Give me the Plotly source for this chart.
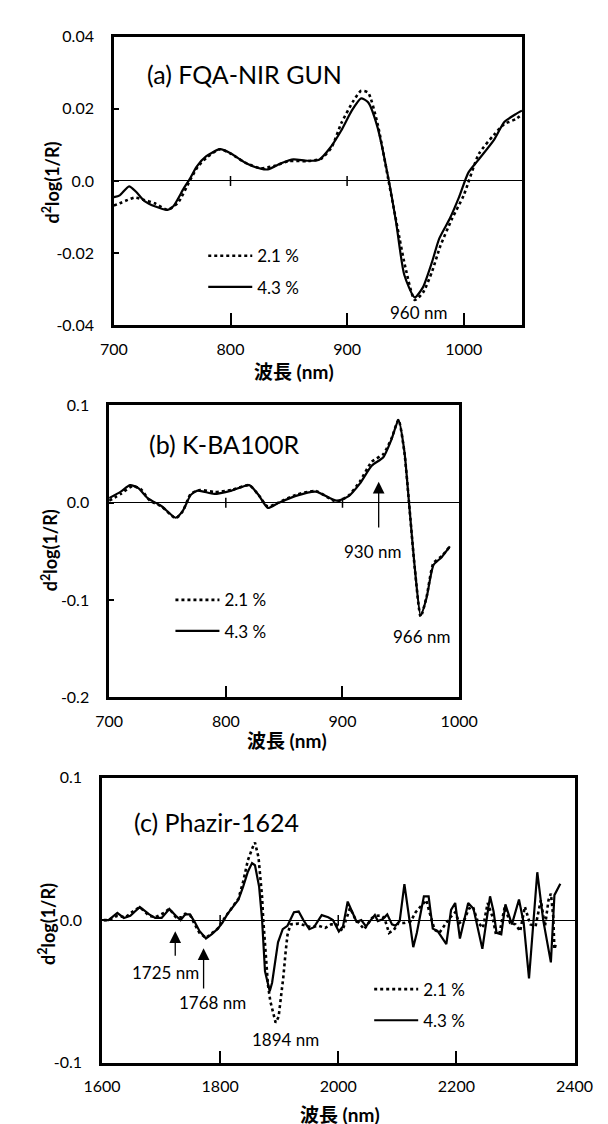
import plotly.graph_objects as go

FONT = "Lato, 'Noto Sans CJK JP', sans-serif"
W, H = 608, 1124

# ---------------- data: panel (a) FQA-NIR GUN ----------------
a_wl_21 = [700, 705, 710, 718, 725, 735, 746, 755, 765, 772, 780, 791, 800, 813, 826, 838, 850,
           866, 878, 887, 895, 905, 912, 918, 926, 935, 945, 950, 958, 965, 973, 980, 990, 1000,
           1013, 1026, 1035, 1045, 1050]
a_21 = [-0.0068, -0.0062, -0.0055, -0.0046, -0.0052, -0.0062, -0.0080, -0.0060, 0.0000, 0.0040,
        0.0066, 0.0088, 0.0076, 0.0050, 0.0035, 0.0042, 0.0055, 0.0055, 0.0062, 0.0095, 0.0160,
        0.0220, 0.0250, 0.0245, 0.0160, 0.0010, -0.0160, -0.0240, -0.0330, -0.0310, -0.0250,
        -0.0180, -0.0105, -0.0040, 0.0075, 0.0128, 0.0158, 0.0172, 0.0185]
a_wl_43 = [700, 705, 713, 719, 726, 735, 746, 751, 760, 765, 771, 779, 791, 800, 813, 826, 832,
           844, 854, 866, 876, 885, 895, 904, 912, 918, 926, 935, 942, 949, 958, 965, 973, 979,
           988, 996, 1004, 1013, 1026, 1035, 1045, 1050]
a_43 = [-0.0045, -0.0040, -0.0015, -0.0030, -0.0055, -0.0070, -0.0080, -0.0070, -0.0020, 0.0005,
        0.0040, 0.0068, 0.0088, 0.0077, 0.0050, 0.0034, 0.0032, 0.0050, 0.0060, 0.0056, 0.0059,
        0.0090, 0.0140, 0.0195, 0.0229, 0.0218, 0.0150, 0.0014, -0.0114, -0.0260, -0.0323,
        -0.0295, -0.0223, -0.0160, -0.0105, -0.0045, 0.0023, 0.0060, 0.0114, 0.0164, 0.0186, 0.0195]

# ---------------- data: panel (b) K-BA100R ----------------
b_wl_21 = [700, 710, 720, 727, 735, 745, 757, 763, 770, 778, 790, 805, 820, 828, 836, 845, 860,
           877, 895, 905, 915, 925, 935, 942, 948, 953, 957, 962, 967, 972, 978, 985, 992]
b_21 = [0.002, 0.009, 0.017, 0.014, 0.002, -0.004, -0.016, -0.009, 0.009, 0.013, 0.011, 0.013,
        0.018, 0.008, -0.004, 0.000, 0.008, 0.012, 0.001, 0.007, 0.022, 0.042, 0.050, 0.066,
        0.085, 0.052, 0.000, -0.068, -0.117, -0.097, -0.062, -0.055, -0.045]
b_wl_43 = [700, 710, 718, 725, 733, 745, 757, 763, 770, 776, 790, 805, 820, 828, 836, 845, 860,
           877, 895, 905, 915, 925, 935, 942, 948, 953, 957, 962, 967, 972, 978, 985, 992]
b_43 = [0.0047, 0.0114, 0.0180, 0.0150, 0.0047, -0.0037, -0.0155, -0.0087, 0.0080, 0.0124,
        0.0090, 0.0124, 0.0180, 0.0080, -0.0054, -0.0003, 0.0070, 0.0114, 0.0020, 0.0064,
        0.0198, 0.0380, 0.0467, 0.0650, 0.0850, 0.0530, 0.0000, -0.0675, -0.1160, -0.0980,
        -0.0640, -0.0560, -0.0450]

# ---------------- data: panel (c) Phazir-1624 ----------------
c_wl_21 = [1603, 1611, 1626, 1640, 1655, 1664, 1680, 1690, 1705, 1714, 1725, 1735, 1741, 1750,
           1757, 1765, 1776, 1786, 1796, 1805, 1815, 1823, 1831, 1839, 1847, 1855, 1859, 1865,
           1868, 1871, 1873, 1876, 1879, 1881, 1885, 1890, 1894, 1899, 1903, 1907, 1911, 1914,
           1919, 1933, 1954, 1967, 1978, 1988, 1996, 2007, 2020, 2028, 2044, 2057, 2065, 2072,
           2078, 2086, 2094, 2102, 2112, 2123, 2131, 2139, 2149, 2155, 2163, 2171, 2182, 2189,
           2198, 2205, 2214, 2221, 2228, 2237, 2245, 2253, 2261, 2267, 2273, 2282, 2291, 2300,
           2308, 2316, 2325, 2334, 2343, 2350, 2356, 2360, 2364, 2366, 2369]
c_21 = [0.000, 0.000, 0.003, 0.002, 0.007, 0.009, 0.003, 0.002, 0.005, 0.008, 0.002, 0.002,
        0.0045, 0.003, -0.003, -0.009, -0.0125, -0.009, -0.006, 0.000, 0.006, 0.010, 0.015,
        0.027, 0.042, 0.051, 0.0545, 0.044, 0.032, 0.0165, 0.0005, -0.0157, -0.0315, -0.0455,
        -0.057, -0.066, -0.072, -0.068, -0.055, -0.040, -0.022, -0.0105, -0.003, -0.0025,
        -0.005, -0.004, -0.0055, -0.003, -0.003, -0.0075, 0.0085, 0.0015, -0.0065, 0.0015,
        0.003, 0.0032, 0.0016, -0.009, -0.007, -0.002, -0.002, -0.0007, 0.0055, 0.0094, 0.014,
        0.0048, -0.0067, -0.009, -0.002, 0.0016, 0.0055, -0.002, 0.0005, 0.008, 0.0094, -0.002,
        -0.0055, 0.012, 0.0025, -0.010, -0.009, 0.0094, -0.002, -0.003, -0.0078, 0.0094,
        -0.003, -0.0044, 0.014, -0.0044, 0.014, 0.0186, 0.0025, -0.0205, -0.016]
c_wl_43 = [1603, 1611, 1626, 1637, 1648, 1664, 1680, 1690, 1701, 1714, 1725, 1733, 1741, 1749,
           1757, 1765, 1776, 1786, 1796, 1804, 1812, 1823, 1831, 1839, 1847, 1854, 1859, 1866,
           1871, 1876, 1884, 1888, 1893, 1898, 1906, 1914, 1925, 1933, 1941, 1951, 1959, 1972,
           1983, 1991, 2001, 2008, 2016, 2023, 2031, 2039, 2047, 2055, 2062, 2067, 2075, 2083,
           2091, 2097, 2104, 2112, 2120, 2127, 2133, 2141, 2145, 2153, 2160, 2168, 2174, 2183,
           2191, 2198, 2206, 2220, 2229, 2244, 2257, 2263, 2268, 2276, 2283, 2294, 2306, 2314,
           2323, 2337, 2347, 2360, 2366, 2376]
c_43 = [0.000, 0.000, 0.005, 0.0015, 0.003, 0.0092, 0.004, 0.0015, 0.0015, 0.0078, 0.003, 0.000,
        0.004, 0.004, -0.0014, -0.0076, -0.0129, -0.0099, -0.006, -0.0018, 0.004, 0.010, 0.0143,
        0.0235, 0.034, 0.040, 0.0385, 0.0235, 0.0005, -0.036, -0.050, -0.044, -0.030, -0.0156,
        -0.0064, -0.004, 0.0055, 0.006, 0.000, -0.0064, -0.005, 0.0035, 0.002, 0.000, -0.008,
        -0.0045, 0.013, 0.0068, -0.0012, 0.000, -0.0045, 0.000, 0.0035, -0.0007, 0.0005, 0.004,
        -0.003, -0.004, -0.0007, 0.0253, 0.0005, -0.019, -0.009, 0.0094, 0.0167, 0.0167, -0.006,
        -0.0076, -0.011, -0.0168, 0.0071, 0.012, -0.013, 0.012, 0.008, -0.0202, 0.0167, 0.006,
        -0.009, -0.010, 0.011, -0.003, 0.0145, -0.002, -0.041, 0.0336, 0.000, -0.0297, 0.0175,
        0.0255]

series_names = ["2.1 %", "4.3 %"]

# ticks
a_xticks = [700, 800, 900, 1000]
a_yticks = [-0.04, -0.02, 0.0, 0.02, 0.04]
a_ytext = ["-0.04", "-0.02", "0.0", "0.02", "0.04"]
b_xticks = [700, 800, 900, 1000]
b_yticks = [-0.2, -0.1, 0.0, 0.1]
b_ytext = ["-0.2", "-0.1", "0.0", "0.1"]
c_xticks = [1600, 1800, 2000, 2200, 2400]
c_yticks = [-0.1, 0.0, 0.1]
c_ytext = ["-0.1", "0.0", "0.1"]


def px_x(p):
    return p / W


def px_y(p):
    return 1 - p / H


fig = go.Figure()

panels = [
    ("x", "y", "legend", a_wl_21, a_21, a_wl_43, a_43, "spline"),
    ("x2", "y2", "legend2", b_wl_21, b_21, b_wl_43, b_43, "spline"),
    ("x3", "y3", "legend3", c_wl_21, c_21, c_wl_43, c_43, "linear"),
]
for i, (xa, ya, lg, x1, y1, x2, y2, shape) in enumerate(panels):
    fig.add_trace(go.Scatter(
        x=x1, y=y1, xaxis=xa, yaxis=ya, mode="lines", name=series_names[0],
        legend=lg, legendgroup=f"g{i}a",
        line=dict(color="black", width=2.6, dash="dot", shape=shape, smoothing=0.6)))
    fig.add_trace(go.Scatter(
        x=x2, y=y2, xaxis=xa, yaxis=ya, mode="lines", name=series_names[1],
        legend=lg, legendgroup=f"g{i}b",
        line=dict(color="black", width=2.2, shape=shape, smoothing=0.6)))

tickfont = dict(family=FONT, size=16, color="black")


def xaxis(domain, rng, tv, anchor):
    return dict(domain=domain, range=rng, tickvals=tv, ticktext=[str(v) for v in tv],
                ticks="inside", ticklen=12, tickwidth=2, tickcolor="black",
                showline=True, linewidth=2.5, linecolor="black", mirror=True,
                showgrid=False, zeroline=False, anchor=anchor, tickfont=tickfont,
                ticklabelstandoff=8)


def yaxis(domain, rng, tv, tt, anchor):
    return dict(domain=domain, range=rng, tickvals=tv, ticktext=tt,
                ticks="inside", ticklen=5, tickwidth=1.5, tickcolor="black",
                showline=True, linewidth=2.5, linecolor="black", mirror=True,
                showgrid=False, zeroline=True, zerolinecolor="black", zerolinewidth=1.2,
                anchor=anchor, tickfont=tickfont, ticklabelstandoff=14)


fig.update_layout(
    width=W, height=H, margin=dict(l=0, r=0, t=0, b=0),
    paper_bgcolor="white", plot_bgcolor="white",
    font=dict(family=FONT, color="black"),
    xaxis=xaxis([px_x(92.7), px_x(528)], [700, 1050], a_xticks, "y"),
    yaxis=yaxis([px_y(312.5), px_y(19)], [-0.04, 0.04], a_yticks, a_ytext, "x"),
    xaxis2=xaxis([px_x(87.6), px_x(461)], [700, 1000], b_xticks, "y2"),
    yaxis2=yaxis([px_y(691), px_y(394)], [-0.2, 0.1], b_yticks, b_ytext, "x2"),
    xaxis3=xaxis([px_x(80), px_x(584)], [1600, 2400], c_xticks, "y3"),
    yaxis3=yaxis([px_y(1062.5), px_y(772.7)], [-0.1, 0.1], c_yticks, c_ytext, "x3"),
)

leg_common = dict(bgcolor="rgba(0,0,0,0)", font=dict(family=FONT, size=17, color="black"),
                  xanchor="left", yanchor="top", itemwidth=44, tracegroupgap=6,
                  traceorder="grouped")
fig.update_layout(
    legend=dict(x=px_x(188), y=px_y(224), **leg_common),
    legend2=dict(x=px_x(153), y=px_y(574), **leg_common),
    legend3=dict(x=px_x(365), y=px_y(970), **leg_common),
)

annos = []
# panel titles
for txt, x, y in [("(a) FQA-NIR GUN", 126, 57), ("(b) K-BA100R", 128, 433),
                  ("(c) Phazir-1624", 112, 818)]:
    annos.append(dict(text=txt, x=px_x(x), y=px_y(y), xref="paper", yref="paper",
                      xanchor="left", yanchor="middle", showarrow=False,
                      font=dict(family=FONT, size=25, color="black")))
# y axis titles
for x, y in [(26, 167), (24, 542), (22, 922)]:
    annos.append(dict(text="<b>d<sup>2</sup>log(1/R)</b>", x=px_x(x), y=px_y(y),
                      xref="paper", yref="paper", xanchor="center", yanchor="middle",
                      textangle=-90, showarrow=False,
                      font=dict(family=FONT, size=18, color="black")))
# x axis titles
for x, y in [(285, 360), (277, 735), (334, 1115)]:
    annos.append(dict(text="<b>波長 (nm)</b>", x=px_x(x), y=px_y(y), xref="paper",
                      yref="paper", xanchor="center", yanchor="middle", showarrow=False,
                      font=dict(family=FONT, size=19, color="black")))
# peak labels
lab_font = dict(family=FONT, size=17, color="black")
for txt, xr, yr, x, y in [("960 nm", "x", "y", 961, -0.0366),
                          ("930 nm", "x2", "y2", 925.7, -0.0504),
                          ("966 nm", "x2", "y2", 967.6, -0.138),
                          ("1725 nm", "x3", "y3", 1707.5, -0.0366),
                          ("1768 nm", "x3", "y3", 1787.4, -0.058),
                          ("1894 nm", "x3", "y3", 1911.5, -0.084)]:
    annos.append(dict(text=txt, x=x, y=y, xref=xr, yref=yr, showarrow=False,
                      xanchor="center", yanchor="middle", font=lab_font))
# arrows
for xr, yr, x, yh, yt in [("x2", "y2", 931, 0.0215, -0.027),
                          ("x3", "y3", 1724, -0.0078, -0.026),
                          ("x3", "y3", 1772, -0.0198, -0.049)]:
    annos.append(dict(text="", x=x, y=yh, ax=x, ay=yt, xref=xr, yref=yr,
                      axref=xr, ayref=yr, showarrow=True, arrowhead=2, arrowsize=1.8,
                      arrowwidth=1.3, arrowcolor="black"))
fig.update_layout(annotations=annos)

# tick marks crossing the zero line
shapes = []
for xr, yr, xs in [("x", "y", [800, 900]), ("x2", "y2", [800, 900]),
                   ("x3", "y3", [1800, 2000])]:
    for xv in xs:
        shapes.append(dict(type="line", xref=xr, yref=yr, x0=xv, x1=xv,
                           ysizemode="pixel", yanchor=0, y0=-5, y1=5,
                           line=dict(color="black", width=1.5)))
fig.update_layout(shapes=shapes)

fig.write_html("out.html")
